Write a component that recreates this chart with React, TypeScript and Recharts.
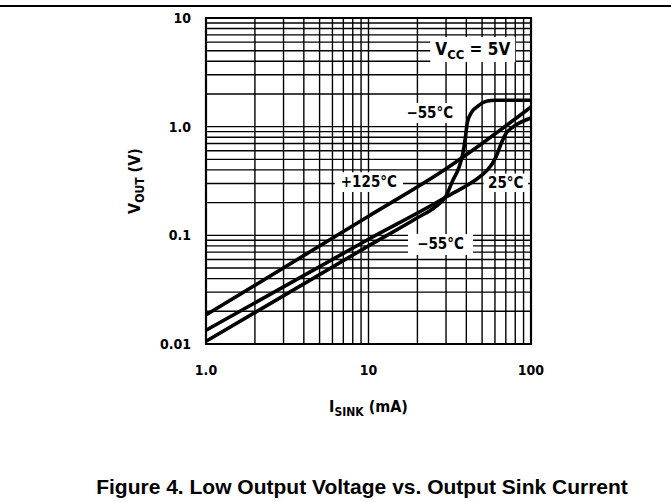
import { LineChart, Line, XAxis, YAxis, CartesianGrid, ReferenceArea } from 'recharts'

// axis grid values (log decades with minor divisions)
const currentTicks = [1, 2, 3, 4, 5, 6, 7, 8, 9, 10, 20, 30, 40, 50, 60, 70, 80, 90, 100]
const voltTicks = [
  0.01, 0.02, 0.03, 0.04, 0.05, 0.06, 0.07, 0.08, 0.09,
  0.1, 0.2, 0.3, 0.4, 0.5, 0.6, 0.7, 0.8, 0.9,
  1, 2, 3, 4, 5, 6, 7, 8, 9, 10,
]
const currentLabels: Record<string, string> = { '1': '1.0', '10': '10', '100': '100' }
const voltLabels: Record<string, string> = { '0.01': '0.01', '0.1': '0.1', '1': '1.0', '10': '10' }

// +125°C
const hotCurrent = [1, 10, 30, 50, 100]
const hotVolts = [0.0185, 0.15, 0.41, 0.7, 1.52]

// 25°C
const roomCurrent = [1, 10, 30, 50, 54, 61, 66, 70, 78, 100]
const roomVolts = [0.0134, 0.092, 0.225, 0.36, 0.4, 0.53, 0.72, 0.86, 1.0, 1.2]

// -55°C
const coldCurrent = [1, 10, 20, 26, 30, 33, 36, 38, 39.5, 40.5, 43, 46.5, 50, 54, 60, 100]
const coldVolts = [0.0106, 0.08, 0.145, 0.185, 0.23, 0.32, 0.42, 0.56, 0.8, 1.08, 1.35, 1.52, 1.65, 1.72, 1.75, 1.75]

const toPoints = (i: number[], v: number[]) => i.map((x, k) => ({ i: x, v: v[k] }))

const hotData = toPoints(hotCurrent, hotVolts)
const roomData = toPoints(roomCurrent, roomVolts)
const coldData = toPoints(coldCurrent, coldVolts)

const FONT = "'DejaVu Sans Condensed', 'Liberation Sans Narrow', sans-serif"
const tickStyle = { fontSize: 14, fontWeight: 700, fill: '#000', fontFamily: FONT }
const labelStyle = { ...tickStyle, fontSize: 15 }
const titleStyle = { ...tickStyle, fontSize: 16 }

const boxText = (text: string) => ({ viewBox }: any) => (
  <text
    x={viewBox.x + viewBox.width / 2}
    y={viewBox.y + viewBox.height / 2}
    dy={5}
    textAnchor="middle"
    style={labelStyle}
  >
    {text}
  </text>
)

const vccText = ({ viewBox }: any) => (
  <text
    x={viewBox.x + viewBox.width / 2}
    y={viewBox.y + viewBox.height / 2}
    dy={5}
    textAnchor="middle"
    style={{ ...tickStyle, fontSize: 17 }}
  >
    <tspan>V</tspan>
    <tspan dy={4} fontSize={13}>CC</tspan>
    <tspan dy={-4}> = 5V</tspan>
  </text>
)

const yTitle = ({ viewBox }: any) => {
  const cx = viewBox.x - 11
  const cy = viewBox.y + viewBox.height / 2
  return (
    <text x={cx} y={cy} transform={`rotate(-90 ${cx} ${cy})`} textAnchor="middle" dy={5} style={titleStyle}>
      <tspan>V</tspan>
      <tspan dy={4} fontSize={12}>OUT</tspan>
      <tspan dy={-4}> (V)</tspan>
    </text>
  )
}

const xTitle = ({ viewBox }: any) => (
  <text x={viewBox.x + viewBox.width / 2} y={viewBox.y + 68} textAnchor="middle" style={titleStyle}>
    <tspan>I</tspan>
    <tspan dy={4} fontSize={12}>SINK</tspan>
    <tspan dy={-4}> (mA)</tspan>
  </text>
)

export default function App() {
  return (
    <div style={{ position: 'absolute', left: 0, top: 0, width: 671, height: 502, background: '#fff' }}>
      <div style={{ position: 'absolute', left: 0, top: 5, width: 671, height: 2, background: '#000' }} />
      <LineChart width={671} height={502} margin={{ top: 18, right: 140, bottom: 128, left: 146 }}>
        <CartesianGrid stroke="#000" strokeWidth={1.4} />
        <XAxis
          type="number"
          dataKey="i"
          scale="log"
          domain={[1, 100]}
          ticks={currentTicks}
          interval={0}
          allowDataOverflow
          tickFormatter={(v) => currentLabels[String(v)] ?? ''}
          tickLine={false}
          axisLine={false}
          tickSize={0}
          tickMargin={21}
          tick={tickStyle}
          height={30}
          label={xTitle}
        />
        <YAxis
          type="number"
          dataKey="v"
          scale="log"
          domain={[0.01, 10]}
          ticks={voltTicks}
          interval={0}
          allowDataOverflow
          tickFormatter={(v) => voltLabels[String(v)] ?? ''}
          tickLine={false}
          axisLine={false}
          tickSize={0}
          tickMargin={15}
          tick={tickStyle}
          width={60}
          label={yTitle}
        />
        <ReferenceArea x1={1} x2={100} y1={0.01} y2={10} fill="none" stroke="#000" strokeWidth={2.2} />
        <ReferenceArea x1={24} x2={80} y1={3.93} y2={6.67} fill="#fff" fillOpacity={1} label={vccText} />
        <ReferenceArea x1={16} x2={35.5} y1={1.08} y2={1.65} fill="#fff" fillOpacity={1} label={boxText('−55°C')} />
        <ReferenceArea x1={6.2} x2={16.3} y1={0.25} y2={0.38} fill="#fff" fillOpacity={1} label={boxText('+125°C')} />
        <ReferenceArea x1={51} x2={96} y1={0.25} y2={0.37} fill="#fff" fillOpacity={1} label={boxText('25°C')} />
        <ReferenceArea x1={17.5} x2={44} y1={0.066} y2={0.103} fill="#fff" fillOpacity={1} label={boxText('−55°C')} />
        <Line data={hotData} dataKey="v" type="monotone" stroke="#000" strokeWidth={3.6} dot={false} isAnimationActive={false} />
        <Line data={roomData} dataKey="v" type="monotone" stroke="#000" strokeWidth={3.6} dot={false} isAnimationActive={false} />
        <Line data={coldData} dataKey="v" type="monotone" stroke="#000" strokeWidth={3.6} dot={false} isAnimationActive={false} />
      </LineChart>
      <div
        style={{
          position: 'absolute',
          left: 362,
          top: 476,
          transform: 'translateX(-50%)',
          whiteSpace: 'nowrap',
          fontFamily: "'Liberation Sans', Arial, sans-serif",
          fontWeight: 700,
          fontSize: 21,
          lineHeight: '21px',
        }}
      >
        Figure 4. Low Output Voltage vs. Output Sink Current
      </div>
    </div>
  )
}
